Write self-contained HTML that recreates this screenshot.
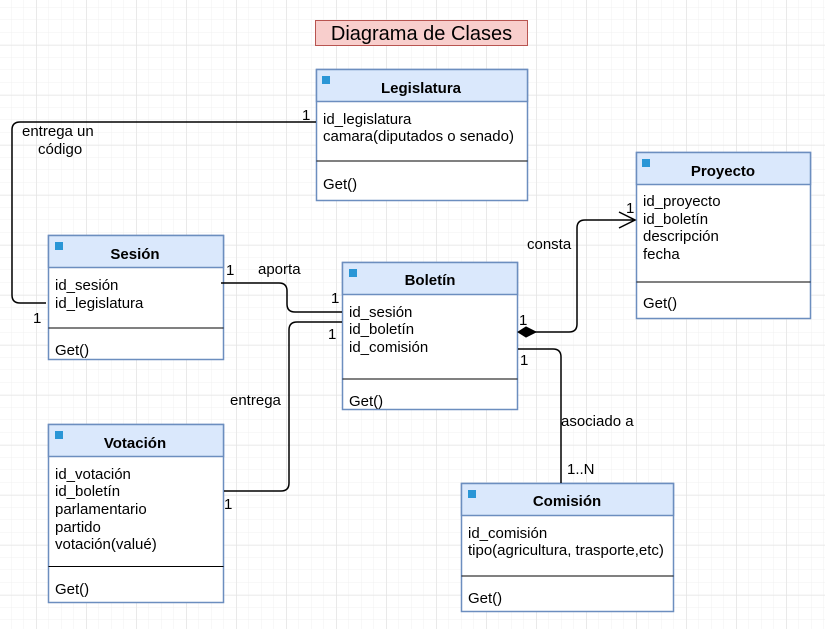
<!DOCTYPE html>
<html><head><meta charset="utf-8"><style>
html,body{margin:0;padding:0;background:#fff}
svg{display:block;font-family:"Liberation Sans",Arial,sans-serif}
</style></head><body>
<svg width="825" height="629" viewBox="0 0 825 629" xmlns="http://www.w3.org/2000/svg">
<defs>
<pattern id="minor" x="11.5" y="7.5" width="12.5" height="12.5" patternUnits="userSpaceOnUse">
<path d="M12.5 0V12.5M0 12.5H12.5" stroke="#f0f0f0" stroke-width="1" fill="none"/>
</pattern>
<pattern id="major" x="36.5" y="45" width="50" height="50" patternUnits="userSpaceOnUse">
<path d="M0 0V50M0 0H50" stroke="#e2e2e2" stroke-width="1" fill="none"/>
</pattern>
</defs>
<rect width="825" height="629" fill="url(#minor)"/>
<rect width="825" height="629" fill="url(#major)"/>

<rect x="315.5" y="20.5" width="212" height="25" fill="#f8cecc" stroke="#b85450"/>
<text x="421.5" y="40" font-size="20" text-anchor="middle">Diagrama de Clases</text>

<g font-size="15" fill="#000">
<rect x="316.5" y="69.5" width="211" height="131" fill="#fff" stroke="#6c8ebf" stroke-width="1.5"/>
<rect x="316.5" y="69.5" width="211" height="32" fill="#dae8fc" stroke="#6c8ebf" stroke-width="1.5"/>
<rect x="322" y="76" width="8" height="8" fill="#2a96d6"/>
<text x="421" y="93" text-anchor="middle" font-weight="bold">Legislatura</text>
<text x="323" y="124">id_legislatura</text>
<text x="323" y="141">camara(diputados o senado)</text>
<line x1="316.5" y1="161" x2="527.5" y2="161" stroke="#000"/>
<text x="323" y="189">Get()</text>

<rect x="636.5" y="152.5" width="174" height="166" fill="#fff" stroke="#6c8ebf" stroke-width="1.5"/>
<rect x="636.5" y="152.5" width="174" height="32" fill="#dae8fc" stroke="#6c8ebf" stroke-width="1.5"/>
<rect x="642" y="159" width="8" height="8" fill="#2a96d6"/>
<text x="723" y="176" text-anchor="middle" font-weight="bold">Proyecto</text>
<text x="643" y="206">id_proyecto</text>
<text x="643" y="224">id_boletín</text>
<text x="643" y="241">descripción</text>
<text x="643" y="259">fecha</text>
<line x1="636.5" y1="282" x2="810.5" y2="282" stroke="#000"/>
<text x="643" y="308">Get()</text>

<rect x="48.5" y="235.5" width="175" height="124" fill="#fff" stroke="#6c8ebf" stroke-width="1.5"/>
<rect x="48.5" y="235.5" width="175" height="32" fill="#dae8fc" stroke="#6c8ebf" stroke-width="1.5"/>
<rect x="55" y="242" width="8" height="8" fill="#2a96d6"/>
<text x="135" y="259" text-anchor="middle" font-weight="bold">Sesión</text>
<text x="55" y="290">id_sesión</text>
<text x="55" y="308">id_legislatura</text>
<line x1="48.5" y1="328" x2="223.5" y2="328" stroke="#000"/>
<text x="55" y="355">Get()</text>

<rect x="342.5" y="262.5" width="175" height="147" fill="#fff" stroke="#6c8ebf" stroke-width="1.5"/>
<rect x="342.5" y="262.5" width="175" height="32" fill="#dae8fc" stroke="#6c8ebf" stroke-width="1.5"/>
<rect x="349" y="269" width="8" height="8" fill="#2a96d6"/>
<text x="430" y="285" text-anchor="middle" font-weight="bold">Boletín</text>
<text x="349" y="317">id_sesión</text>
<text x="349" y="334">id_boletín</text>
<text x="349" y="352">id_comisión</text>
<line x1="342.5" y1="379" x2="517.5" y2="379" stroke="#000"/>
<text x="349" y="406">Get()</text>

<rect x="48.5" y="424.5" width="175" height="178" fill="#fff" stroke="#6c8ebf" stroke-width="1.5"/>
<rect x="48.5" y="424.5" width="175" height="32" fill="#dae8fc" stroke="#6c8ebf" stroke-width="1.5"/>
<rect x="55" y="431" width="8" height="8" fill="#2a96d6"/>
<text x="135" y="448" text-anchor="middle" font-weight="bold">Votación</text>
<text x="55" y="479">id_votación</text>
<text x="55" y="496">id_boletín</text>
<text x="55" y="514">parlamentario</text>
<text x="55" y="532">partido</text>
<text x="55" y="549">votación(valué)</text>
<line x1="48.5" y1="566.5" x2="223.5" y2="566.5" stroke="#000"/>
<text x="55" y="594">Get()</text>

<rect x="461.5" y="483.5" width="212" height="128" fill="#fff" stroke="#6c8ebf" stroke-width="1.5"/>
<rect x="461.5" y="483.5" width="212" height="32" fill="#dae8fc" stroke="#6c8ebf" stroke-width="1.5"/>
<rect x="468" y="490" width="8" height="8" fill="#2a96d6"/>
<text x="567" y="506" text-anchor="middle" font-weight="bold">Comisión</text>
<text x="468" y="538">id_comisión</text>
<text x="468" y="555">tipo(agricultura, trasporte,etc)</text>
<line x1="461.5" y1="576" x2="673.5" y2="576" stroke="#000"/>
<text x="468" y="603">Get()</text>
</g>

<g fill="none" stroke="#000" stroke-width="1.5">
<path d="M316 122H20Q12 122 12 130V295Q12 303 20 303H46"/>
<path d="M221 283H279Q287 283 287 291V304Q287 312 295 312H342"/>
<path d="M224 491H281Q289 491 289 483V330Q289 322 297 322H342"/>
<path d="M530 332H569Q577 332 577 324V228Q577 220 585 220H635"/>
<path d="M619 212L635 220L619 228"/>
<path d="M518 349H553Q561 349 561 357V483"/>
</g>
<path d="M518 332L526 327L536 332L526 337Z" fill="#000" stroke="#000"/>

<g font-size="15" fill="#000">
<text x="302" y="120">1</text>
<text x="22" y="136">entrega  un</text>
<text x="38" y="154">código</text>
<text x="33" y="323">1</text>
<text x="226" y="275">1</text>
<text x="258" y="274">aporta</text>
<text x="331" y="303">1</text>
<text x="328" y="339">1</text>
<text x="230" y="405">entrega</text>
<text x="224" y="509">1</text>
<text x="519" y="325">1</text>
<text x="527" y="249">consta</text>
<text x="626" y="213">1</text>
<text x="520" y="365">1</text>
<text x="561" y="426">asociado a</text>
<text x="567" y="474">1..N</text>
</g>
</svg>
</body></html>
